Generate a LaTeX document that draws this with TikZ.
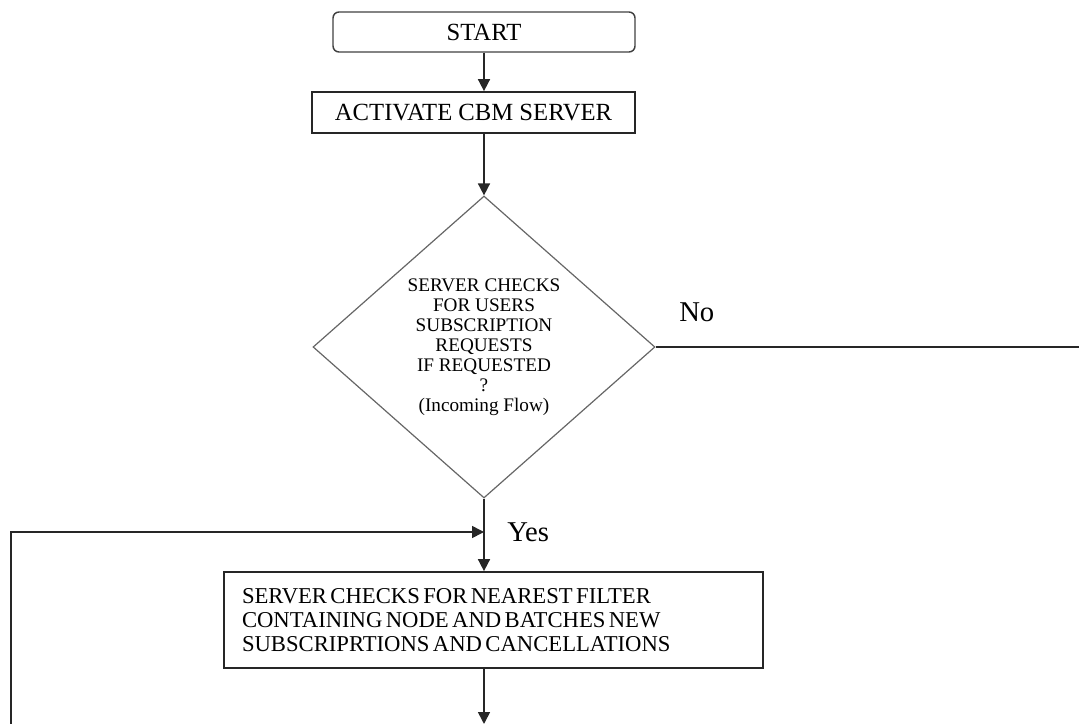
\documentclass[tikz,border=0pt]{standalone}
\usepackage{fontspec}
\setmainfont{Liberation Serif}
\usetikzlibrary{shapes.geometric,arrows.meta}
\begin{document}
\begin{tikzpicture}[x=0.75pt,y=-0.75pt,
  every node/.style={text=black},
  flowline/.style={draw=black!85,line width=1.2pt},
  arr/.style={flowline,-{Triangle[length=9pt,width=9pt]}},
  startbox/.style={draw=black!75,line width=1.1pt,rounded corners=4.5pt,minimum width=226.5pt,minimum height=30pt,inner sep=0pt,font=\fontsize{18.5}{20}\selectfont},
  procbox/.style={draw=black!85,line width=1.3pt,inner sep=0pt,font=\fontsize{18.5}{20}\selectfont},
  decbox/.style={diamond,draw=black!60,line width=0.9pt,inner sep=0pt,aspect=1.13,minimum width=256.5pt,minimum height=226.5pt,align=center,font=\fontsize{14.4}{15}\selectfont},
  lbl/.style={font=\fontsize{21.5}{22}\selectfont,inner sep=0pt}]
\useasboundingbox (0,0) rectangle (1079,724);
\node[startbox] (start) at (484,32) {START};
\node[procbox,minimum width=242.25pt,minimum height=30.75pt] (act) at (473.5,112.5) {ACTIVATE CBM SERVER};
\node[decbox] (dia) at (484,347) {SERVER CHECKS\\FOR USERS\\SUBSCRIPTION\\REQUESTS\\IF REQUESTED\\?\\(Incoming Flow)};
\node[procbox,minimum width=404.25pt,minimum height=72pt,text width=377.25pt,align=left,inner xsep=13.5pt,font=\fontsize{17}{18}\selectfont] (sub) at (493.5,620) {\spaceskip=0.15em plus 0.05em\relax SERVER CHECKS FOR NEAREST FILTER\\CONTAINING NODE AND BATCHES NEW\\SUBSCRIPRTIONS AND CANCELLATIONS};
\node[lbl,anchor=west] (yes) at (507,532) {Yes};
\node[lbl,anchor=west] (no) at (679,312) {No};
\coordinate (join) at (484,532);
\coordinate (loopcorner) at (11,532);
\coordinate (loopend) at (11,724);
\coordinate (noend) at (1079,347);
\coordinate (outend) at (484,724);
\draw[arr] (start.south) -- (start.south |- act.north);
\draw[arr] (start.south |- act.south) -- (dia.north);
\draw[flowline] (dia.east) -- (noend);
\draw[arr] (dia.south) -- (dia.south |- sub.north);
\draw[arr] (loopend) -- (loopcorner) -- (join);
\draw[arr] (dia.south |- sub.south) -- (outend);
\end{tikzpicture}
\end{document}
